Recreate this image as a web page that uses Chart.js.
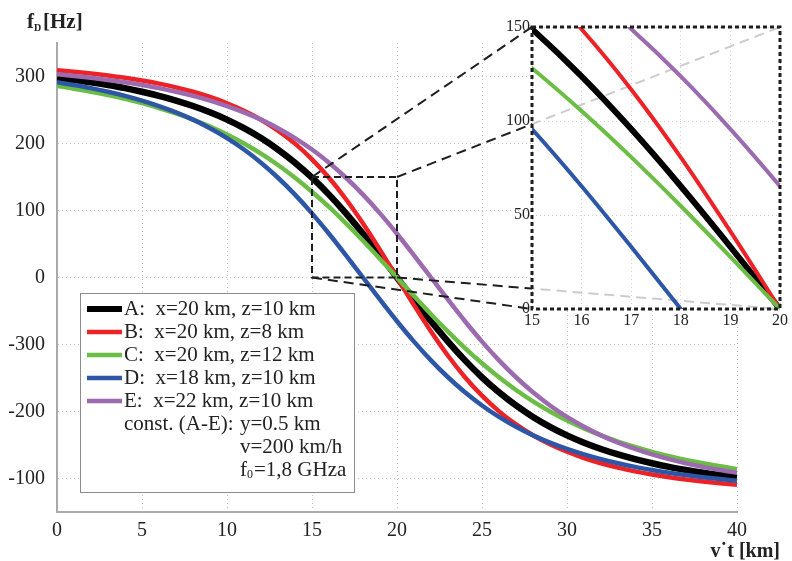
<!DOCTYPE html>
<html>
<head>
<meta charset="utf-8">
<script src="https://cdn.jsdelivr.net/npm/chart.js@4/dist/chart.umd.min.js"></script>
<style>
  html, body { margin: 0; padding: 0; background: #fff; }
  #wrap { position: relative; width: 792px; height: 561px; }
  #main { position: absolute; left: 0; top: 0; }
  #inset { position: absolute; left: 490px; top: 0; }
</style>
</head>
<body>
<div id="wrap">
  <canvas id="main" width="792" height="561"></canvas>
  <canvas id="inset" width="302" height="340"></canvas>
</div>
<script>
// v*t in km
const vt = [0, 1, 2, 3, 4, 5, 6, 7, 8, 9, 10, 11, 12, 13, 14, 15, 16, 17, 18, 19, 20,
            21, 22, 23, 24, 25, 26, 27, 28, 29, 30, 31, 32, 33, 34, 35, 36, 37, 38, 39, 40];

// Doppler shift fD [Hz]
const seriesA = [298.1, 294.9, 291.3, 287.2, 282.6, 277.2, 271.1, 264.1, 255.9, 246.5, 235.6,
                 222.8, 208.1, 191.0, 171.3, 148.9, 123.7, 95.7, 65.3, 33.1, 0,
                 -33.1, -65.3, -95.7, -123.7, -148.9, -171.3, -191.0, -208.1, -222.8, -235.6,
                 -246.5, -255.9, -264.1, -271.1, -277.2, -282.6, -287.2, -291.3, -294.9, -298.1];
const seriesB = [309.4, 307.1, 304.5, 301.5, 298.0, 294.0, 289.3, 283.7, 277.2, 269.4, 260.1,
                 248.9, 235.5, 219.3, 199.8, 176.4, 148.8, 116.8, 80.7, 41.3, 0,
                 -41.3, -80.7, -116.8, -148.8, -176.4, -199.8, -219.3, -235.5, -248.9, -260.1,
                 -269.4, -277.2, -283.7, -289.3, -294.0, -298.0, -301.5, -304.5, -307.1, -309.4];
const seriesC = [285.8, 281.8, 277.3, 272.2, 266.6, 260.2, 253.0, 244.8, 235.6, 225.1, 213.3,
                 199.9, 184.8, 167.9, 149.0, 128.1, 105.3, 80.8, 54.8, 27.7, 0,
                 -27.7, -54.8, -80.8, -105.3, -128.1, -149.0, -167.9, -184.8, -199.9, -213.3,
                 -225.1, -235.6, -244.8, -253.0, -260.2, -266.6, -272.2, -277.3, -281.8, -285.8];
const seriesD = [291.3, 287.2, 282.6, 277.2, 271.1, 264.1, 255.9, 246.5, 235.6, 222.8, 208.1,
                 191.0, 171.3, 148.9, 123.7, 95.7, 65.3, 33.1, 0, -33.1, -65.3,
                 -95.7, -123.7, -148.9, -171.3, -191.0, -208.1, -222.8, -235.6, -246.5, -255.9,
                 -264.1, -271.1, -277.2, -282.6, -287.2, -291.3, -294.9, -298.1, -300.9, -303.4];
const seriesE = [303.4, 300.9, 298.1, 294.9, 291.3, 287.2, 282.6, 277.2, 271.1, 264.1, 255.9,
                 246.5, 235.6, 222.8, 208.1, 191.0, 171.3, 148.9, 123.7, 95.7, 65.3,
                 33.1, 0, -33.1, -65.3, -95.7, -123.7, -148.9, -171.3, -191.0, -208.1,
                 -222.8, -235.6, -246.5, -255.9, -264.1, -271.1, -277.2, -282.6, -287.2, -291.3];

const seriesNames = ['A:  x=20 km, z=10 km', 'B:  x=20 km, z=8 km', 'C:  x=20 km, z=12 km',
                     'D:  x=18 km, z=10 km', 'E:  x=22 km, z=10 km'];
const constNotes = ['y=0.5 km', 'v=200 km/h', '=1,8 GHza'];

const xTicks = [0, 5, 10, 15, 20, 25, 30, 35, 40];
// the printed labels below zero are as in the original figure
const yTickValues = [-300, -200, -100, 0, 100, 200, 300];
const yTickLabels = ['-100', '-200', '-300', '0', '100', '200', '300'];

const insetXTicks = [15, 16, 17, 18, 19, 20];
const insetYTicks = [0, 50, 100, 150];

const seriesValues = [seriesA, seriesB, seriesC, seriesD, seriesE];
const seriesColors = ['#000000', '#ec2227', '#6cbd45', '#2d57a6', '#9b6aaf'];
const serif = "'Liberation Serif', 'Times New Roman', serif";
const textColor = '#222';
const insetOffset = { x: 490, y: 0 };

function makeDatasets(wBlack, wOther) {
  return seriesNames.map((name, i) => ({
    label: name,
    data: vt.map((x, j) => ({ x: x, y: seriesValues[i][j] })),
    borderColor: seriesColors[i],
    borderWidth: i === 0 ? wBlack : wOther,
    pointRadius: 0,
    cubicInterpolationMode: 'monotone',
    fill: false,
    order: 5 - i
  }));
}

function zoomCorners(chart) {
  const x = chart.scales.x, y = chart.scales.y;
  return {
    tl: { x: x.getPixelForValue(15), y: y.getPixelForValue(150) },
    tr: { x: x.getPixelForValue(20), y: y.getPixelForValue(150) },
    bl: { x: x.getPixelForValue(15), y: y.getPixelForValue(0) },
    br: { x: x.getPixelForValue(20), y: y.getPixelForValue(0) }
  };
}

function insetCorners() {
  if (!window.insetChart) return null;
  const a = insetChart.chartArea;
  const ox = insetOffset.x, oy = insetOffset.y;
  return {
    tl: { x: a.left + ox, y: a.top + oy },
    tr: { x: a.right + ox, y: a.top + oy },
    bl: { x: a.left + ox, y: a.bottom + oy },
    br: { x: a.right + ox, y: a.bottom + oy }
  };
}

const mainDecor = {
  id: 'mainDecor',
  afterDatasetsDraw(chart) {
    const ctx = chart.ctx;
    const z = zoomCorners(chart);
    ctx.save();
    // zoom box
    ctx.strokeStyle = '#1e1e1e';
    ctx.lineWidth = 2;
    ctx.setLineDash([7, 4]);
    ctx.strokeRect(z.tl.x, z.tl.y, z.tr.x - z.tl.x, z.bl.y - z.tl.y);
    // connectors to the inset
    const ins = insetCorners();
    if (ins) {
      ctx.setLineDash([10, 6]);
      ['tl', 'tr', 'bl', 'br'].forEach(k => {
        ctx.beginPath();
        ctx.moveTo(z[k].x, z[k].y);
        ctx.lineTo(ins[k].x, ins[k].y);
        ctx.stroke();
      });
    }
    ctx.setLineDash([]);

    // legend
    ctx.fillStyle = '#fff';
    ctx.fillRect(80, 293, 274, 199);
    ctx.strokeStyle = '#8c8c8c';
    ctx.lineWidth = 1;
    ctx.strokeRect(80.5, 293.5, 274, 199);
    ctx.font = '21px ' + serif;
    ctx.textBaseline = 'middle';
    seriesNames.forEach((name, i) => {
      const y = 309 + i * 23;
      ctx.strokeStyle = seriesColors[i];
      ctx.lineWidth = i === 0 ? 6 : 4.5;
      ctx.beginPath();
      ctx.moveTo(87, y);
      ctx.lineTo(122, y);
      ctx.stroke();
      ctx.fillStyle = textColor;
      ctx.fillText(name, 124, y);
    });
    const y5 = 309 + 5 * 23;
    ctx.fillText('const. (A-E):', 124, y5);
    ctx.fillText(constNotes[0], 240, y5);
    ctx.fillText(constNotes[1], 240, y5 + 23);
    ctx.fillText('f', 240, y5 + 46);
    ctx.font = '12px ' + serif;
    ctx.fillText('0', 247, y5 + 51);
    ctx.font = '21px ' + serif;
    ctx.fillText(constNotes[2], 254, y5 + 46);
    ctx.restore();
  },
  afterDraw(chart) {
    const ctx = chart.ctx;
    ctx.save();
    ctx.fillStyle = textColor;
    ctx.textBaseline = 'alphabetic';
    ctx.font = 'bold 21px ' + serif;
    ctx.fillText('f', 27, 28);
    ctx.font = 'bold 10px ' + serif;
    ctx.fillText('D', 34, 31);
    ctx.font = 'bold 21px ' + serif;
    ctx.fillText('[Hz]', 43, 28);
    ctx.font = 'bold 20px ' + serif;
    ctx.textAlign = 'right';
    ctx.fillText('v\u02D9t [km]', 780, 557);
    ctx.restore();
  }
};

const mainChart = new Chart(document.getElementById('main'), {
  type: 'line',
  data: { datasets: makeDatasets(6.5, 4.5) },
  options: {
    responsive: false,
    animation: false,
    layout: { padding: { top: 43, right: 55, left: 0, bottom: 0 } },
    plugins: { legend: { display: false }, tooltip: { enabled: false } },
    scales: {
      x: {
        type: 'linear', min: 0, max: 40,
        afterBuildTicks: s => { s.ticks = xTicks.map(v => ({ value: v })); },
        afterFit: s => { s.height = 49; },
        ticks: { font: { family: serif, size: 20 }, color: textColor, padding: 7, maxRotation: 0 },
        grid: { color: '#c4c4c4', lineWidth: 1, drawTicks: false },
        border: { color: '#aaaaaa', width: 2, dash: [1, 3] }
      },
      y: {
        type: 'linear', min: -350, max: 350,
        afterBuildTicks: s => { s.ticks = yTickValues.map(v => ({ value: v })); },
        afterFit: s => { s.width = 57; },
        ticks: {
          font: { family: serif, size: 20 }, color: textColor, padding: 12,
          callback: v => yTickLabels[yTickValues.indexOf(v)]
        },
        grid: { color: '#c4c4c4', lineWidth: 1, drawTicks: false },
        border: { color: '#aaaaaa', width: 2, dash: [1, 3] }
      }
    }
  },
  plugins: [mainDecor]
});

const insetDecor = {
  id: 'insetDecor',
  beforeDraw(chart) {
    const a = chart.chartArea, ctx = chart.ctx;
    ctx.save();
    ctx.fillStyle = '#fff';
    ctx.fillRect(a.left, a.top, a.right - a.left, a.bottom - a.top);
    ctx.restore();
  },
  beforeDatasetsDraw(chart) {
    const a = chart.chartArea, ctx = chart.ctx;
    const z = zoomCorners(mainChart);
    ctx.save();
    ctx.beginPath();
    ctx.rect(a.left, a.top, a.right - a.left, a.bottom - a.top);
    ctx.clip();
    ctx.strokeStyle = '#cccccc';
    ctx.lineWidth = 2;
    ctx.setLineDash([10, 6]);
    [['tr', a.right, a.top], ['br', a.right, a.bottom]].forEach(([k, ex, ey]) => {
      ctx.beginPath();
      ctx.moveTo(z[k].x - insetOffset.x, z[k].y - insetOffset.y);
      ctx.lineTo(ex, ey);
      ctx.stroke();
    });
    ctx.restore();
  },
  afterDatasetsDraw(chart) {
    const a = chart.chartArea, ctx = chart.ctx;
    ctx.save();
    ctx.strokeStyle = '#1e1e1e';
    ctx.lineWidth = 3;
    ctx.setLineDash([4, 3]);
    ctx.strokeRect(a.left, a.top, a.right - a.left, a.bottom - a.top);
    ctx.restore();
  }
};

window.insetChart = new Chart(document.getElementById('inset'), {
  type: 'line',
  data: { datasets: makeDatasets(6, 4) },
  options: {
    responsive: false,
    animation: false,
    layout: { padding: { top: 27, right: 12, left: 0, bottom: 0 } },
    plugins: { legend: { display: false }, tooltip: { enabled: false } },
    scales: {
      x: {
        type: 'linear', min: 15, max: 20,
        afterBuildTicks: s => { s.ticks = insetXTicks.map(v => ({ value: v })); },
        afterFit: s => { s.height = 31; },
        ticks: { font: { family: serif, size: 16 }, color: textColor, padding: 2, maxRotation: 0 },
        grid: { color: '#d2d2d2', lineWidth: 1, drawTicks: false },
        border: { display: false, dash: [1, 3] }
      },
      y: {
        type: 'linear', min: 0, max: 150,
        afterBuildTicks: s => { s.ticks = insetYTicks.map(v => ({ value: v })); },
        afterFit: s => { s.width = 42; },
        ticks: { font: { family: serif, size: 16 }, color: textColor, padding: 2 },
        grid: { color: '#d2d2d2', lineWidth: 1, drawTicks: false },
        border: { display: false, dash: [1, 3] }
      }
    }
  },
  plugins: [insetDecor]
});

// redraw the main chart now that the inset position is known
mainChart.draw();
</script>
</body>
</html>
